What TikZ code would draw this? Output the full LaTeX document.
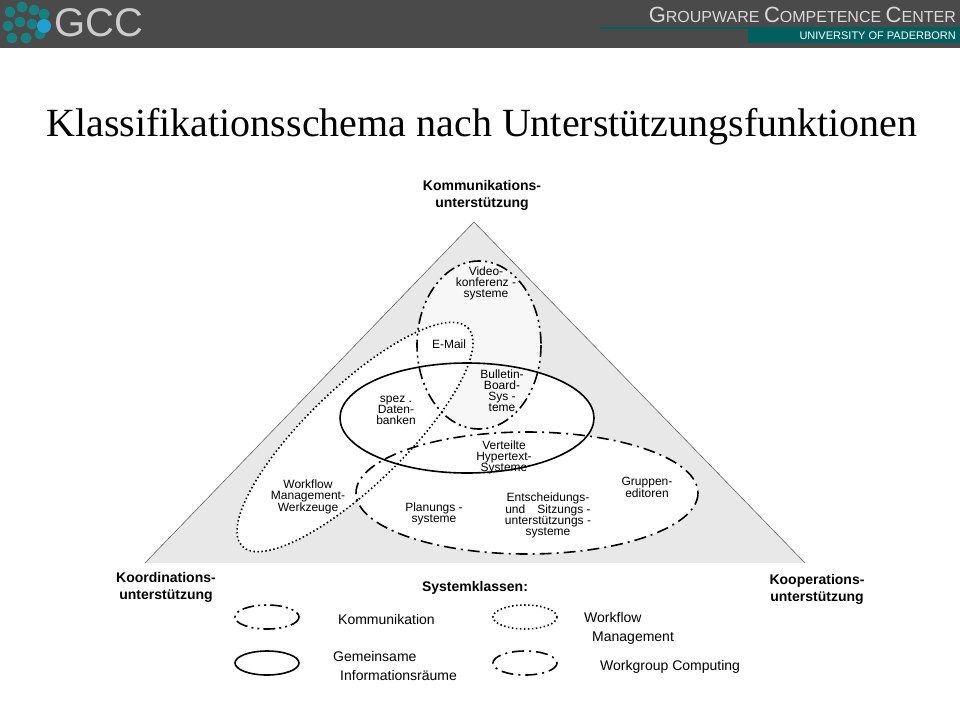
\documentclass[tikz,border=0pt]{standalone}
\usepackage{fontspec}
\setmainfont{Liberation Serif}
\setsansfont{Liberation Sans}
\begin{document}
\begin{tikzpicture}[x=1pt,y=-1pt,
  lbl/.style={font=\sffamily\fontsize{12}{11}\selectfont,align=center,inner sep=0pt},
  blbl/.style={font=\sffamily\bfseries\fontsize{14}{17}\selectfont,align=center,inner sep=0pt},
  leg/.style={font=\sffamily\fontsize{14}{19}\selectfont,align=left,inner sep=0pt,anchor=west},
  komm/.style={line width=1.6pt,dash pattern=on 12pt off 4pt on 2pt off 4pt on 2pt off 4pt},
  wf/.style={line width=1.6pt,dash pattern=on 1.5pt off 2.5pt},
  gem/.style={line width=1.6pt},
  wgc/.style={line width=1.6pt,dash pattern=on 12pt off 5pt on 2pt off 5pt}]
\useasboundingbox (0,0) rectangle (960,720);
\fill[white] (0,0) rectangle (960,720);
% header
\fill[black!71] (0,0) rectangle (960,48);
\foreach \p in {(10,12),(22,7),(34,10),(8,26),(20,22),(32,24),(12,38),(26,38),(40,34),(44,14)}
  \fill[teal!80!gray] \p circle (5.5);
\fill[cyan!70!teal] (44,26) circle (7);
\node[font=\sffamily\fontsize{40}{40}\selectfont,text=black!20,anchor=west,inner sep=0pt] (gcc) at (54,23) {GCC};
\node[font=\sffamily\fontsize{22}{22}\selectfont,text=black!15,anchor=east,inner sep=0pt] (gcc2) at (956,15) {G\fontsize{16}{16}\selectfont ROUPWARE \fontsize{22}{22}\selectfont C\fontsize{16}{16}\selectfont OMPETENCE \fontsize{22}{22}\selectfont C\fontsize{16}{16}\selectfont ENTER};
\fill[teal!75!black] (600,27) rectangle (960,29);
\fill[teal!75!black] (748,29) rectangle (960,43);
\node[font=\sffamily\fontsize{11}{10}\selectfont,text=white,anchor=east,inner sep=0pt] (upb) at (956,36) {UNIVERSITY OF PADERBORN};
% title
\node[font=\fontsize{40}{44}\selectfont,inner sep=0pt] (title) at (482,127) {Klassifikationsschema nach Unterstützungsfunktionen};
% triangle
\fill[black!9] (145,563) -- (474,222) -- (805,563) -- cycle;
\draw[black!60,line width=0.6pt] (145,563) -- (474,222) -- (805,563);
% fills
\fill[white,rotate around={44:(355,437)}] (355,437) ellipse (157 and 49);
\fill[white] (527,493) ellipse (171 and 61);
\fill[white] (467,418) ellipse (127 and 55);
\begin{scope}
\clip (145,563) -- (474,222) -- (805,563) -- cycle;
\fill[black!3] (479,345) ellipse (62 and 84);
\end{scope}
\begin{scope}
\clip[rotate around={44:(355,437)}] (355,437) ellipse (157 and 49);
\fill[white] (479,345) ellipse (62 and 84);
\end{scope}
% strokes
\draw[komm] (479,345) ellipse (62 and 84);
\draw[wf,rotate around={44:(355,437)}] (355,437) ellipse (157 and 49);
\draw[gem] (467,418) ellipse (127 and 55);
\draw[wgc] (527,493) ellipse (171 and 61);
% labels
\node[blbl] (k1) at (482,195) {Kommunikations-\\unterstützung};
\node[blbl] (k2) at (166,587) {Koordinations-\\unterstützung};
\node[blbl] (k3) at (817,589) {Kooperations-\\unterstützung};
\node[lbl] (a) at (486,283) {Video-\\konferenz -\\systeme};
\node[lbl] (b) at (449,344) {E-Mail};
\node[lbl] (c) at (502,391) {Bulletin-\\Board-\\Sys -\\teme};
\node[lbl] (d) at (396,410) {spez .\\Daten-\\banken};
\node[lbl] (e) at (504,457) {Verteilte\\Hypertext-\\Systeme};
\node[lbl] (f) at (308,497) {Workflow\\Management-\\Werkzeuge};
\node[lbl] (g) at (434,514) {Planungs -\\systeme};
\node[lbl] (h) at (548,515) {Entscheidungs-\\und\quad Sitzungs -\\unterstützungs -\\systeme};
\node[lbl] (i) at (647,487) {Gruppen-\\editoren};
% legend
\node[font=\sffamily\bfseries\fontsize{14}{17}\selectfont,inner sep=0pt] (sk) at (475,588) {Systemklassen:};
\draw[komm] (267,617) ellipse (32 and 12);
\draw[gem] (267,663) ellipse (32 and 12);
\draw[wf] (525,617) ellipse (32 and 12);
\draw[wgc] (525,663) ellipse (32 and 12);
\node[leg] (l1) at (338,619) {Kommunikation};
\node[leg] (l2) at (333,666) {Gemeinsame\\\hspace*{7pt}Informationsräume};
\node[leg] (l3) at (584,628) {Workflow\\\hspace*{8pt}Management};
\node[leg] (l4) at (600,667) {Workgroup Computing};
\end{tikzpicture}
\end{document}
